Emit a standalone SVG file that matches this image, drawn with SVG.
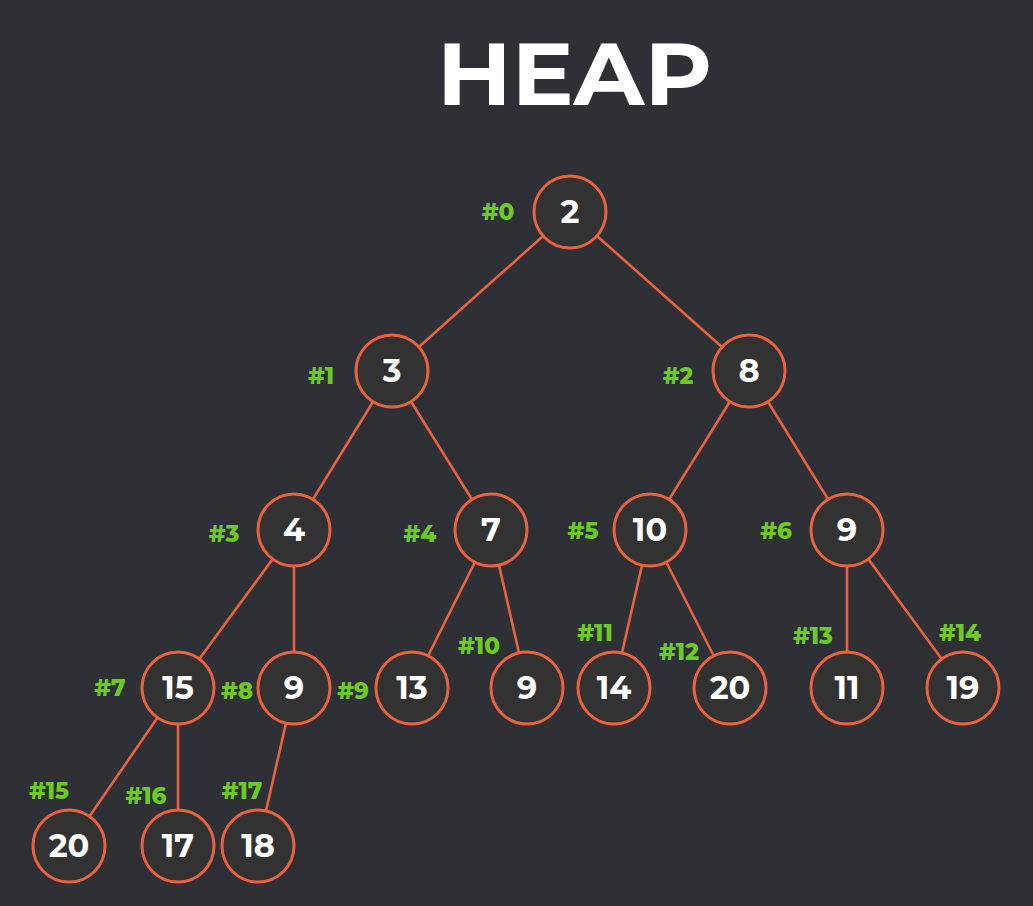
<svg xmlns="http://www.w3.org/2000/svg" width="1033" height="906" viewBox="0 0 1033 906">
<style>
.bg{fill:#2e3035}
.edge{stroke:#e8623f;stroke-width:2.6;fill:none}
.node circle{fill:#333232;stroke:#e8623f;stroke-width:3}
.val{font-family:"Montserrat","Open Sans","Liberation Sans",sans-serif;font-weight:bold;font-size:32px;fill:#ffffff;text-anchor:middle}
.idx{font-family:"Montserrat","Open Sans","Liberation Sans",sans-serif;font-weight:800;font-size:23px;fill:#6dc926;text-anchor:middle}
.title{font-family:"Montserrat","Open Sans","Liberation Sans",sans-serif;font-weight:bold;font-size:88px;fill:#ffffff}
</style>
<rect class="bg" x="0" y="0" width="1033" height="906"/>
<text class="title" x="437" y="105" textLength="275" lengthAdjust="spacingAndGlyphs">HEAP</text>
<g id="connectors">
<line class="edge" x1="570" y1="212" x2="392" y2="371"/>
<line class="edge" x1="570" y1="212" x2="749" y2="371"/>
<line class="edge" x1="392" y1="371" x2="294" y2="530"/>
<line class="edge" x1="392" y1="371" x2="491" y2="530"/>
<line class="edge" x1="749" y1="371" x2="650" y2="530"/>
<line class="edge" x1="749" y1="371" x2="847" y2="530"/>
<line class="edge" x1="294" y1="530" x2="178" y2="688"/>
<line class="edge" x1="294" y1="530" x2="294" y2="688"/>
<line class="edge" x1="491" y1="530" x2="412" y2="688"/>
<line class="edge" x1="491" y1="530" x2="527" y2="688"/>
<line class="edge" x1="650" y1="530" x2="614" y2="688"/>
<line class="edge" x1="650" y1="530" x2="730" y2="688"/>
<line class="edge" x1="847" y1="530" x2="847" y2="688"/>
<line class="edge" x1="847" y1="530" x2="963" y2="688"/>
<line class="edge" x1="178" y1="688" x2="69" y2="846"/>
<line class="edge" x1="178" y1="688" x2="178" y2="846"/>
<line class="edge" x1="294" y1="688" x2="258" y2="846"/>
</g>
<g id="n0" class="node"><circle cx="570" cy="212" r="36"/><text class="val" x="570" y="223">2</text><text class="idx" x="498" y="220">#0</text></g>
<g id="n1" class="node"><circle cx="392" cy="371" r="36"/><text class="val" x="392" y="382">3</text><text class="idx" x="321" y="384">#1</text></g>
<g id="n2" class="node"><circle cx="749" cy="371" r="36"/><text class="val" x="749" y="382">8</text><text class="idx" x="678" y="384">#2</text></g>
<g id="n3" class="node"><circle cx="294" cy="530" r="36"/><text class="val" x="294" y="541">4</text><text class="idx" x="224" y="542">#3</text></g>
<g id="n4" class="node"><circle cx="491" cy="530" r="36"/><text class="val" x="491" y="541">7</text><text class="idx" x="420" y="542">#4</text></g>
<g id="n5" class="node"><circle cx="650" cy="530" r="36"/><text class="val" x="650" y="541">10</text><text class="idx" x="583" y="539">#5</text></g>
<g id="n6" class="node"><circle cx="847" cy="530" r="36"/><text class="val" x="847" y="541">9</text><text class="idx" x="776" y="539">#6</text></g>
<g id="n7" class="node"><circle cx="178" cy="688" r="36"/><text class="val" x="178" y="699">15</text><text class="idx" x="110" y="696">#7</text></g>
<g id="n8" class="node"><circle cx="294" cy="688" r="36"/><text class="val" x="294" y="699">9</text><text class="idx" x="237" y="699">#8</text></g>
<g id="n9" class="node"><circle cx="412" cy="688" r="36"/><text class="val" x="412" y="699">13</text><text class="idx" x="353" y="699">#9</text></g>
<g id="n10" class="node"><circle cx="527" cy="688" r="36"/><text class="val" x="527" y="699">9</text><text class="idx" x="479" y="654">#10</text></g>
<g id="n11" class="node"><circle cx="614" cy="688" r="36"/><text class="val" x="614" y="699">14</text><text class="idx" x="595" y="641">#11</text></g>
<g id="n12" class="node"><circle cx="730" cy="688" r="36"/><text class="val" x="730" y="699">20</text><text class="idx" x="679" y="660">#12</text></g>
<g id="n13" class="node"><circle cx="847" cy="688" r="36"/><text class="val" x="847" y="699">11</text><text class="idx" x="813" y="644">#13</text></g>
<g id="n14" class="node"><circle cx="963" cy="688" r="36"/><text class="val" x="963" y="699">19</text><text class="idx" x="960" y="641">#14</text></g>
<g id="n15" class="node"><circle cx="69" cy="846" r="36"/><text class="val" x="69" y="857">20</text><text class="idx" x="49" y="799">#15</text></g>
<g id="n16" class="node"><circle cx="178" cy="846" r="36"/><text class="val" x="178" y="857">17</text><text class="idx" x="146" y="804">#16</text></g>
<g id="n17" class="node"><circle cx="258" cy="846" r="36"/><text class="val" x="258" y="857">18</text><text class="idx" x="242" y="799">#17</text></g>
</svg>
